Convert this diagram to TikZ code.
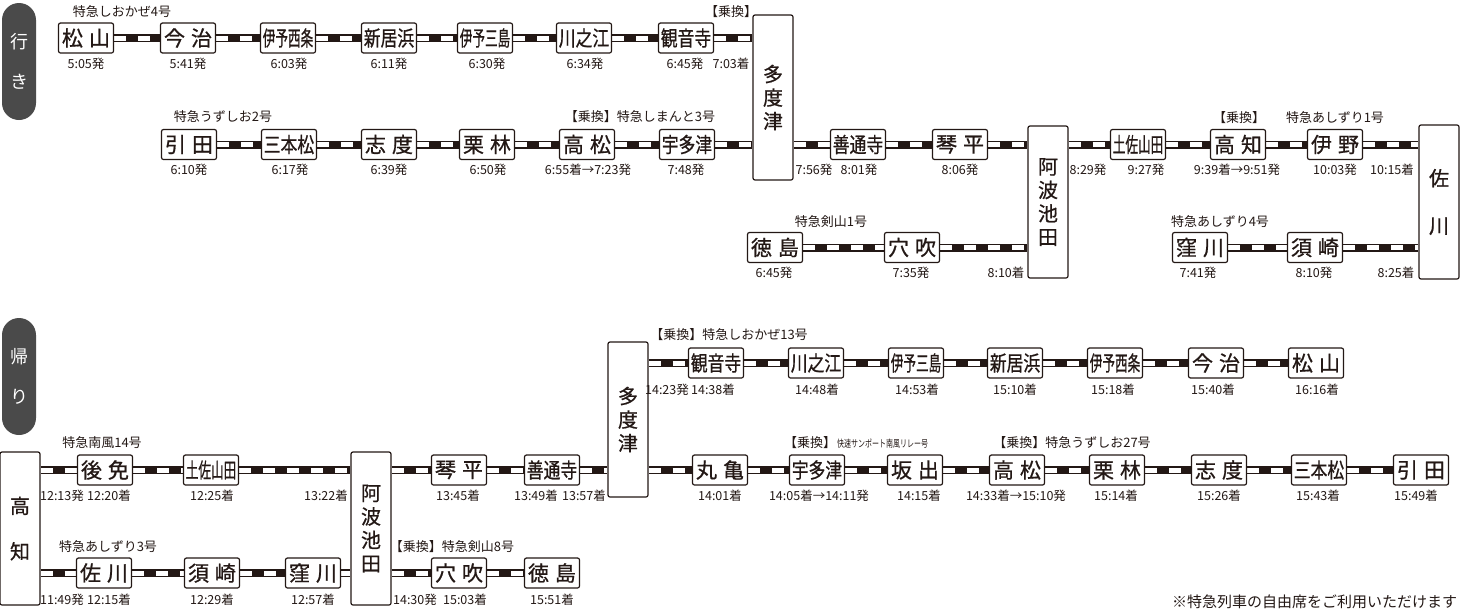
\documentclass[tikz,border=0pt]{standalone}
\usepackage{graphicx}
\usepackage{fontspec}
\setmainfont{Noto Sans CJK JP}
\newfontfamily\jpb[FakeBold=0.8]{Noto Sans CJK JP}
\usetikzlibrary{backgrounds}
\definecolor{ink}{HTML}{231815}
\definecolor{pillc}{HTML}{4A4A4A}
\newcommand\tw[2]{#1\kern6pt#2}
\newcommand\tri[1]{\scalebox{0.8}[1]{#1}}
\newcommand\qd[1]{\scalebox{0.6}[1]{#1}}
\newcommand\st[4]{\node[stbox] (#1) at (#2,#3) {#4};}
\newcommand\tm[4]{\node[tmst] (#1) at (#2,#3) {#4};}
\newcommand\lb[4]{\node[lbst] (#1) at (#2,#3) {#4};}
\newcommand\rl[2]{\draw[railw] (#1) -- (#2);}
\begin{document}
\begin{tikzpicture}[x=1pt,y=-1pt,
  stbox/.style={draw=ink, line width=1.2pt, rounded corners=2pt, fill=white,
    minimum width=55pt, minimum height=30pt, inner sep=0pt, text=ink,
    font=\jpb\fontsize{21}{21}\selectfont},
  tall/.style={draw=ink, line width=1.2pt, rounded corners=2pt, fill=white,
    minimum width=40pt, minimum height=#1, inner sep=0pt, align=center, text=ink,
    font=\jpb\fontsize{20}{23.5}\selectfont},
  tmst/.style={inner sep=0pt, text=ink, font=\fontsize{12.5}{12.5}\selectfont},
  lbst/.style={inner sep=0pt, text=ink, font=\fontsize{13}{13}\selectfont},
  pillst/.style={fill=pillc, rounded corners=17pt, minimum width=34pt,
    minimum height=117pt, inner sep=0pt, align=center, text=white,
    font=\fontsize{18}{40}\selectfont},
  railw/.style={line width=5pt, white, dash pattern=on 12pt off 12pt,
    preaction={draw=ink, line width=8pt, solid}}
]
\useasboundingbox (0,0) rectangle (1469,611);

% ---------------- 行き ----------------
\node[pillst] (pillA) at (19,61.5) {行\\き};

\st{r1a}{86}{38}{\tw{松}{山}}
\st{r1b}{188}{38}{\tw{今}{治}}
\st{r1c}{288}{38}{\qd{伊予西条}}
\st{r1d}{389}{38}{\tri{新居浜}}
\st{r1e}{485}{38}{\qd{伊予三島}}
\st{r1f}{584}{38}{\tri{川之江}}
\st{r1g}{686}{38}{\tri{観音寺}}
\node[tall=165pt] (tadA) at (773,97.5) {多\\度\\津};

\st{r2a}{189}{144.5}{\tw{引}{田}}
\st{r2b}{289}{144.5}{\tri{三本松}}
\st{r2c}{389}{144.5}{\tw{志}{度}}
\st{r2d}{487}{144.5}{\tw{栗}{林}}
\st{r2e}{587}{144.5}{\tw{高}{松}}
\st{r2f}{687}{144.5}{\tri{宇多津}}
\st{r2g}{858}{144.5}{\tri{善通寺}}
\st{r2h}{960}{144.5}{\tw{琴}{平}}
\node[tall=152pt] (ikeA) at (1048,202) {阿\\波\\池\\田};
\st{r2i}{1138}{144.5}{\qd{土佐山田}}
\st{r2j}{1238}{144.5}{\tw{高}{知}}
\st{r2k}{1335}{144.5}{\tw{伊}{野}}
\node[tall=154pt] (sakA) at (1439,202) {佐\\[24pt]川};

\st{r3a}{775}{247.5}{\tw{徳}{島}}
\st{r3b}{912}{247.5}{\tw{穴}{吹}}
\st{r3c}{1200}{247.5}{\tw{窪}{川}}
\st{r3d}{1315}{247.5}{\tw{須}{崎}}

% labels top
\lb{la1}{122}{12}{特急しおかぜ4号}
\lb{la2}{731}{12}{【乗換】}
\lb{la3}{223}{117}{特急うずしお2号}
\lb{la4}{640}{117}{【乗換】特急しまんと3号}
\lb{la5}{1239}{118}{【乗換】}
\lb{la6}{1335}{118}{特急あしずり1号}
\lb{la7}{831}{222}{特急剣山1号}
\lb{la8}{1220}{222}{特急あしずり4号}

% times top
\tm{ta1}{86}{64}{5:05発}
\tm{ta2}{188}{64}{5:41発}
\tm{ta3}{289}{64}{6:03発}
\tm{ta4}{389}{64}{6:11発}
\tm{ta5}{487}{64}{6:30発}
\tm{ta6}{585}{64}{6:34発}
\tm{ta7}{685}{64}{6:45発}
\tm{ta8}{731}{64}{7:03着}

\tm{tb1}{189}{170}{6:10発}
\tm{tb2}{290}{170}{6:17発}
\tm{tb3}{389}{170}{6:39発}
\tm{tb4}{488}{170}{6:50発}
\tm{tb5}{588}{170}{6:55着→7:23発}
\tm{tb6}{686}{170}{7:48発}
\tm{tb7}{814}{170}{7:56発}
\tm{tb8}{859}{170}{8:01発}
\tm{tb9}{960}{170}{8:06発}
\tm{tb10}{1088}{170}{8:29発}
\tm{tb11}{1146}{170}{9:27発}
\tm{tb12}{1237}{170}{9:39着→9:51発}
\tm{tb13}{1335}{170}{10:03発}
\tm{tb14}{1392}{170}{10:15着}

\tm{tc1}{774}{273}{6:45発}
\tm{tc2}{911}{273}{7:35発}
\tm{tc3}{1006}{273}{8:10着}
\tm{tc4}{1198}{273}{7:41発}
\tm{tc5}{1314}{273}{8:10発}
\tm{tc6}{1396}{273}{8:25着}

% ---------------- 帰り ----------------
\node[pillst] (pillB) at (19,376.5) {帰\\り};

\node[tall=155pt] (tadB) at (628,419.5) {多\\度\\津};
\st{b1a}{716}{363}{\tri{観音寺}}
\st{b1b}{816}{363}{\tri{川之江}}
\st{b1c}{916}{363}{\qd{伊予三島}}
\st{b1d}{1015}{363}{\tri{新居浜}}
\st{b1e}{1115}{363}{\qd{伊予西条}}
\st{b1f}{1216}{363}{\tw{今}{治}}
\st{b1g}{1316}{363}{\tw{松}{山}}

\node[tall=153pt] (kochi) at (20,528.5) {高\\[22pt]知};
\st{b2a}{105}{470}{\tw{後}{免}}
\st{b2b}{211}{470}{\qd{土佐山田}}
\node[tall=153pt] (ikeB) at (371,528.5) {阿\\波\\池\\田};
\st{b2c}{459}{470}{\tw{琴}{平}}
\st{b2d}{552}{470}{\tri{善通寺}}
\st{b2e}{720}{470}{\tw{丸}{亀}}
\st{b2f}{817}{470}{\tri{宇多津}}
\st{b2g}{915}{470}{\tw{坂}{出}}
\st{b2h}{1017}{470}{\tw{高}{松}}
\st{b2i}{1117}{470}{\tw{栗}{林}}
\st{b2j}{1219}{470}{\tw{志}{度}}
\st{b2k}{1319}{470}{\tri{三本松}}
\st{b2l}{1421}{470}{\tw{引}{田}}

\st{b3a}{104}{573}{\tw{佐}{川}}
\st{b3b}{212}{573}{\tw{須}{崎}}
\st{b3c}{313}{573}{\tw{窪}{川}}
\st{b3d}{459}{573}{\tw{穴}{吹}}
\st{b3e}{552}{573}{\tw{徳}{島}}

% labels bottom
\lb{lb1}{729}{335}{【乗換】特急しおかぜ13号}
\lb{lb2}{102}{443}{特急南風14号}
\node[lbst, anchor=west] (lb3) at (784,443) {【乗換】\kern1pt\scalebox{0.7}[1]{\fontsize{10}{10}\selectfont 快速サンポート南風リレー号}};
\lb{lb4}{1072}{443}{【乗換】特急うずしお27号}
\lb{lb5}{108}{547}{特急あしずり3号}
\lb{lb6}{452}{547}{【乗換】特急剣山8号}

% times bottom
\tm{td1}{667}{390}{14:23発}
\tm{td2}{713}{390}{14:38着}
\tm{td3}{817}{390}{14:48着}
\tm{td4}{917}{390}{14:53着}
\tm{td5}{1015}{390}{15:10着}
\tm{td6}{1113}{390}{15:18着}
\tm{td7}{1213}{390}{15:40着}
\tm{td8}{1317}{390}{16:16着}

\tm{te1}{62}{496}{12:13発}
\tm{te2}{109}{496}{12:20着}
\tm{te3}{212}{496}{12:25着}
\tm{te4}{326}{496}{13:22着}
\tm{te5}{458}{496}{13:45着}
\tm{te6}{536}{496}{13:49着}
\tm{te7}{584}{496}{13:57着}
\tm{te8}{720}{496}{14:01着}
\tm{te9}{819}{496}{14:05着→14:11発}
\tm{te10}{919}{496}{14:15着}
\tm{te11}{1016}{496}{14:33着→15:10発}
\tm{te12}{1116}{496}{15:14着}
\tm{te13}{1219}{496}{15:26着}
\tm{te14}{1318}{496}{15:43着}
\tm{te15}{1416}{496}{15:49着}

\tm{tf1}{62}{600}{11:49発}
\tm{tf2}{109}{600}{12:15着}
\tm{tf3}{212}{600}{12:29着}
\tm{tf4}{313}{600}{12:57着}
\tm{tf5}{415}{600}{14:30発}
\tm{tf6}{465}{600}{15:03着}
\tm{tf7}{552}{600}{15:51着}

\node[inner sep=0pt, text=ink, font=\fontsize{15}{15}\selectfont, anchor=west] (note) at (1172,602) {※特急列車の自由席をご利用いただけます};

% ---------------- rails ----------------
\begin{scope}[on background layer]
\fill[white] (0,0) rectangle (1469,611);
\rl{r1a.east}{r1b.west}
\rl{r1b.east}{r1c.west}
\rl{r1c.east}{r1d.west}
\rl{r1d.east}{r1e.west}
\rl{r1e.east}{r1f.west}
\rl{r1f.east}{r1g.west}
\rl{r1g.east}{tadA.west |- r1g.east}
\rl{r2a.east}{r2b.west}
\rl{r2b.east}{r2c.west}
\rl{r2c.east}{r2d.west}
\rl{r2d.east}{r2e.west}
\rl{r2e.east}{r2f.west}
\rl{r2f.east}{tadA.west |- r2f.east}
\rl{tadA.east |- r2g.west}{r2g.west}
\rl{r2g.east}{r2h.west}
\rl{r2h.east}{ikeA.west |- r2h.east}
\rl{ikeA.east |- r2i.west}{r2i.west}
\rl{r2i.east}{r2j.west}
\rl{r2j.east}{r2k.west}
\rl{r2k.east}{sakA.west |- r2k.east}
\rl{r3a.east}{r3b.west}
\rl{r3b.east}{ikeA.west |- r3b.east}
\rl{r3c.east}{r3d.west}
\rl{r3d.east}{sakA.west |- r3d.east}

\rl{tadB.east |- b1a.west}{b1a.west}
\rl{b1a.east}{b1b.west}
\rl{b1b.east}{b1c.west}
\rl{b1c.east}{b1d.west}
\rl{b1d.east}{b1e.west}
\rl{b1e.east}{b1f.west}
\rl{b1f.east}{b1g.west}
\rl{kochi.east |- b2a.west}{b2a.west}
\rl{b2a.east}{b2b.west}
\rl{b2b.east}{ikeB.west |- b2b.east}
\rl{ikeB.east |- b2c.west}{b2c.west}
\rl{b2c.east}{b2d.west}
\rl{b2d.east}{tadB.west |- b2d.east}
\rl{tadB.east |- b2e.west}{b2e.west}
\rl{b2e.east}{b2f.west}
\rl{b2f.east}{b2g.west}
\rl{b2g.east}{b2h.west}
\rl{b2h.east}{b2i.west}
\rl{b2i.east}{b2j.west}
\rl{b2j.east}{b2k.west}
\rl{b2k.east}{b2l.west}
\rl{kochi.east |- b3a.west}{b3a.west}
\rl{b3a.east}{b3b.west}
\rl{b3b.east}{b3c.west}
\rl{b3c.east}{ikeB.west |- b3c.east}
\rl{ikeB.east |- b3d.west}{b3d.west}
\rl{b3d.east}{b3e.west}
\end{scope}
\end{tikzpicture}
\end{document}
